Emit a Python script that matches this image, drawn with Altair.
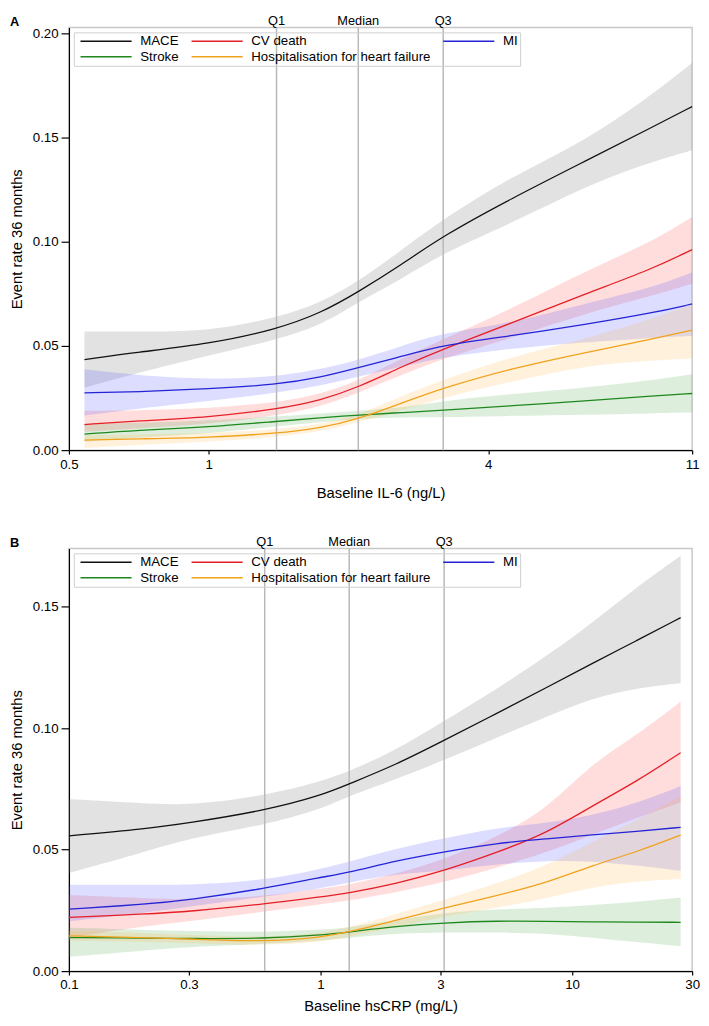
import altair as alt
import pandas as pd

SERIES = ["MACE", "CV death", "MI", "Stroke", "Hospitalisation for heart failure"]
LINE_COLORS = ["#111111", "#e41f26", "#2424d6", "#1e881e", "#f0a21c"]
BAND_COLORS = ["#7a7a7a", "#ff4a4a", "#4a4aff", "#49a449", "#ffb347"]
QUART_LABELS = ["Q1", "Median", "Q3"]

# ---------------- Panel A : IL-6 ----------------
A_X = [0.54, 0.7, 1.0, 1.4, 1.75, 2.1, 2.6, 3.2, 4.5, 6.5, 9, 11]
A_QUART = [1.4, 2.1, 3.2]
A_XTICKS = [0.5, 1, 4, 11]

A_MACE = [0.0435, 0.047, 0.051, 0.058, 0.066, 0.076, 0.089, 0.103, 0.121, 0.139, 0.155, 0.165]
A_MACE_LO = [0.030, 0.037, 0.0455, 0.053, 0.060, 0.0713, 0.082, 0.0948, 0.109, 0.127, 0.1386, 0.144]
A_MACE_HI = [0.057, 0.057, 0.057, 0.0635, 0.071, 0.081, 0.096, 0.111, 0.1315, 0.1487, 0.1706, 0.186]

A_CV = [0.0123, 0.014, 0.0158, 0.0196, 0.024, 0.0302, 0.040, 0.0486, 0.0611, 0.0752, 0.0869, 0.0963]
A_CV_LO = [0.0088, 0.0105, 0.0125, 0.0166, 0.021, 0.0275, 0.036, 0.044, 0.054, 0.0658, 0.074, 0.0799]
A_CV_HI = [0.0189, 0.019, 0.020, 0.0228, 0.027, 0.0333, 0.044, 0.0533, 0.068, 0.0862, 0.100, 0.112]

A_MI = [0.0275, 0.028, 0.0294, 0.0314, 0.035, 0.0396, 0.045, 0.0505, 0.0549, 0.0604, 0.0658, 0.0702]
A_MI_LO = [0.0166, 0.020, 0.0236, 0.0275, 0.031, 0.0353, 0.040, 0.0447, 0.049, 0.0518, 0.054, 0.0549]
A_MI_HI = [0.0388, 0.036, 0.0338, 0.0353, 0.039, 0.0432, 0.050, 0.0564, 0.061, 0.0705, 0.078, 0.0854]

A_STROKE = [0.0077, 0.0095, 0.0111, 0.0138, 0.0155, 0.0169, 0.018, 0.0192, 0.0213, 0.0236, 0.026, 0.0272]
A_STROKE_LO = [0.0041, 0.006, 0.008, 0.0115, 0.0135, 0.015, 0.0158, 0.0158, 0.0165, 0.017, 0.0177, 0.0181]
A_STROKE_HI = [0.0127, 0.013, 0.0142, 0.0162, 0.0177, 0.0189, 0.0205, 0.0236, 0.027, 0.030, 0.0335, 0.0364]

A_HHF = [0.0048, 0.0054, 0.0061, 0.008, 0.0107, 0.015, 0.0225, 0.0299, 0.0393, 0.047, 0.0533, 0.0576]
A_HHF_LO = [0.001, 0.0025, 0.004, 0.0064, 0.009, 0.0135, 0.019, 0.0252, 0.033, 0.0408, 0.043, 0.044]
A_HHF_HI = [0.0072, 0.0075, 0.0082, 0.0099, 0.0125, 0.0166, 0.026, 0.0338, 0.045, 0.0535, 0.063, 0.070]

# ---------------- Panel B : hsCRP ----------------
B_X = [0.1, 0.2, 0.3, 0.6, 1.0, 1.3, 2.0, 3.1, 5, 8, 12, 18, 27]
B_QUART = [0.6, 1.3, 3.1]
B_XTICKS = [0.1, 0.3, 1, 3, 10, 30]

B_MACE = [0.0557, 0.0585, 0.061, 0.0661, 0.0722, 0.0771, 0.085, 0.095, 0.106, 0.117, 0.1266, 0.136, 0.1455]
B_MACE_LO = [0.0404, 0.049, 0.0547, 0.0601, 0.0665, 0.0722, 0.079, 0.0869, 0.096, 0.105, 0.1124, 0.1165, 0.1185]
B_MACE_HI = [0.0708, 0.069, 0.0682, 0.0722, 0.078, 0.0822, 0.091, 0.103, 0.116, 0.130, 0.1433, 0.158, 0.171]

B_CV = [0.0221, 0.0235, 0.0245, 0.0276, 0.0306, 0.0322, 0.036, 0.0413, 0.0487, 0.057, 0.068, 0.078, 0.0899]
B_CV_LO = [0.0138, 0.0185, 0.0205, 0.0245, 0.0275, 0.029, 0.0325, 0.0366, 0.0425, 0.049, 0.0561, 0.063, 0.0695]
B_CV_HI = [0.0313, 0.030, 0.0295, 0.0306, 0.034, 0.0355, 0.040, 0.046, 0.055, 0.067, 0.0856, 0.097, 0.111]

B_MI = [0.0255, 0.0275, 0.0293, 0.034, 0.0386, 0.0406, 0.0455, 0.0491, 0.0527, 0.0545, 0.0561, 0.0575, 0.0592]
B_MI_LO = [0.0205, 0.024, 0.0265, 0.0306, 0.034, 0.0365, 0.040, 0.0413, 0.044, 0.0455, 0.0453, 0.0435, 0.0413]
B_MI_HI = [0.0356, 0.0355, 0.0355, 0.0373, 0.042, 0.045, 0.0505, 0.0547, 0.059, 0.061, 0.0641, 0.069, 0.0762]

B_STROKE = [0.0138, 0.0136, 0.0134, 0.0134, 0.0148, 0.0161, 0.0185, 0.0199, 0.0207, 0.0205, 0.0203, 0.0202, 0.0201]
B_STROKE_LO = [0.0059, 0.0085, 0.010, 0.0111, 0.0125, 0.0138, 0.0155, 0.0159, 0.016, 0.0155, 0.0138, 0.012, 0.0102]
B_STROKE_HI = [0.0179, 0.017, 0.0165, 0.016, 0.017, 0.0179, 0.021, 0.0241, 0.0255, 0.026, 0.0272, 0.0285, 0.0303]

B_HHF = [0.0145, 0.0138, 0.0132, 0.0121, 0.0138, 0.0161, 0.021, 0.026, 0.031, 0.0365, 0.0435, 0.049, 0.056]
B_HHF_LO = [0.0125, 0.012, 0.0115, 0.0105, 0.012, 0.0142, 0.018, 0.0225, 0.026, 0.030, 0.0345, 0.037, 0.038]
B_HHF_HI = [0.0165, 0.0157, 0.015, 0.0138, 0.0156, 0.018, 0.0235, 0.0293, 0.036, 0.0435, 0.0534, 0.062, 0.072]


def build_df(xs, mids, los, his):
    rows = []
    for s, m, lo, hi in zip(SERIES, mids, los, his):
        for xv, mv, lv, hv in zip(xs, m, lo, hi):
            rows.append({"x": xv, "series": s, "mid": mv, "lo": lv, "hi": hv})
    return pd.DataFrame(rows)


def panel(letter, df, quart, xdomain, xticks, xtitle, ydomain, yticks, height,
          xlabelpad, xtitlepad):
    ytitle = "Event rate 36 months"
    xscale = alt.Scale(type="log", domain=xdomain, nice=False)
    yscale = alt.Scale(domain=ydomain, nice=False, zero=False)
    xaxis = alt.Axis(values=xticks, format="~g", title=xtitle, tickSize=4,
                     labelPadding=xlabelpad, titlePadding=xtitlepad,
                     labelFlush=False, labelOverlap=False)
    yaxis = alt.Axis(values=yticks, format=".2f", title=ytitle,
                     tickSize=8, labelPadding=3, titlePadding=8,
                     labelFlush=False, labelOverlap=False)

    layers = []
    for i, s in enumerate(SERIES):
        op = 0.22 if s == "MACE" else 0.19
        band = alt.Chart(df).transform_filter(alt.datum.series == s).mark_area(
            color=BAND_COLORS[i], opacity=op, interpolate="basis"
        ).encode(
            x=alt.X("x:Q", scale=xscale, axis=xaxis, title=xtitle),
            y=alt.Y("lo:Q", scale=yscale, axis=yaxis, title=ytitle),
            y2="hi:Q",
        )
        layers.append(band)

    qdf = pd.DataFrame({"q": quart, "label": QUART_LABELS})
    rule = alt.Chart(qdf).mark_rule(color="#b8b8b8", strokeWidth=1.5).encode(
        x=alt.X("q:Q", title=xtitle)
    )
    layers.append(rule)

    line = alt.Chart(df).mark_line(strokeWidth=1.3, interpolate="basis").encode(
        x=alt.X("x:Q", title=xtitle),
        y=alt.Y("mid:Q", title=ytitle),
        color=alt.Color(
            "series:N",
            scale=alt.Scale(domain=SERIES, range=LINE_COLORS),
            legend=alt.Legend(
                title=None, orient="top-left", offset=5, columns=3,
                direction="horizontal",
                symbolType="M-0.4,0H10", symbolSize=100, symbolStrokeWidth=1.5,
                labelOffset=52, labelFontSize=13.5, labelLimit=400,
                strokeColor="#cfcfcf", padding=2, rowPadding=1, columnPadding=8,
                labelColor="#000000",
            ),
        ),
    )
    layers.append(line)

    qtxt = alt.Chart(qdf).mark_text(fontSize=13, baseline="alphabetic", color="#000").encode(
        x=alt.X("q:Q", title=xtitle), y=alt.value(-2), text="label:N"
    )
    let = alt.Chart(pd.DataFrame({"t": [letter]})).mark_text(
        fontSize=13, fontWeight="bold", align="left", baseline="alphabetic", color="#000"
    ).encode(x=alt.value(-60), y=alt.value(-1), text="t:N")
    layers += [qtxt, let]
    return alt.layer(*layers).properties(width=634, height=height)


dfA = build_df(A_X, [A_MACE, A_CV, A_MI, A_STROKE, A_HHF],
               [A_MACE_LO, A_CV_LO, A_MI_LO, A_STROKE_LO, A_HHF_LO],
               [A_MACE_HI, A_CV_HI, A_MI_HI, A_STROKE_HI, A_HHF_HI])
dfB = build_df(B_X, [B_MACE, B_CV, B_MI, B_STROKE, B_HHF],
               [B_MACE_LO, B_CV_LO, B_MI_LO, B_STROKE_LO, B_HHF_LO],
               [B_MACE_HI, B_CV_HI, B_MI_HI, B_STROKE_HI, B_HHF_HI])

pA = panel("A", dfA, A_QUART, [0.5, 11], A_XTICKS, "Baseline IL-6 (ng/L)",
           [0, 0.203], [0, 0.05, 0.10, 0.15, 0.20], 430, 4, 15)
pB = panel("B", dfB, B_QUART, [0.1, 30], B_XTICKS, "Baseline hsCRP (mg/L)",
           [0, 0.174], [0, 0.05, 0.10, 0.15], 430, 3, 8)

chart = (
    alt.vconcat(pA, pB, spacing=34)
    .resolve_scale(x="independent", y="independent", color="independent")
    .resolve_legend(color="independent")
    .properties(padding={"top": -2, "left": 0, "right": 0, "bottom": 0})
    .configure(font="Liberation Sans")
    .configure_view(stroke="#c8c8c8", strokeWidth=1.5)
    .configure_axis(domainColor="#000000", tickColor="#000000", labelColor="#000000",
                    titleColor="#000000", grid=False, labelFontSize=13.5,
                    titleFontSize=15, titleFontWeight="normal", domainWidth=1.2,
                    tickWidth=1.2, labelFont="Liberation Sans", titleFont="Liberation Sans")
)

chart.save("out.html", embed_options={"renderer": "svg", "actions": False})
